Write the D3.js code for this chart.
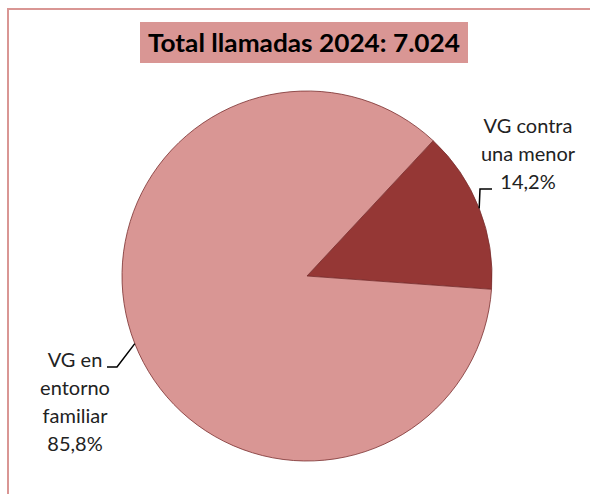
<!DOCTYPE html>
<html>
<head>
<meta charset="utf-8">
<script src="https://cdn.jsdelivr.net/npm/d3@7"></script>
<style>
  html, body { margin: 0; padding: 0; background: #fff; }
  svg { display: block; }
</style>
</head>
<body>
<script>
// ---- data ----
const categories = ["VG contra una menor", "VG en entorno familiar"];
const labelLines = [["VG contra", "una menor"], ["VG en", "entorno", "familiar"]];
const values = [14.2, 85.8];
const percentLabels = ["14,2%", "85,8%"];
const titleText = "Total llamadas 2024: 7.024";
const colors = ["#953735", "#D99694"];

const W = 590, H = 494;
const svg = d3.select("body").append("svg").attr("width", W).attr("height", H);
const FONT = "Lato, 'Open Sans', sans-serif";

// chart border (extends past right & bottom edge)
svg.append("rect").attr("x", 8).attr("y", 9).attr("width", 620).attr("height", 520)
  .attr("fill", "none").attr("stroke", "#D99694").attr("stroke-width", 2);

// title
const tb = { x: 140, y: 22, w: 328, h: 41 };
svg.append("rect").attr("x", tb.x).attr("y", tb.y).attr("width", tb.w).attr("height", tb.h)
  .attr("fill", "#D99694");
svg.append("text").attr("x", tb.x + tb.w / 2).attr("y", 52)
  .attr("text-anchor", "middle").attr("font-family", FONT).attr("font-weight", "bold")
  .attr("font-size", 24).attr("fill", "#000")
  .attr("textLength", 312).attr("lengthAdjust", "spacingAndGlyphs")
  .text(titleText);

// pie
const cx = 307, cy = 276, R = 185;
const startDeg = 43;
const pie = d3.pie().sort(null).value(d => d)
  .startAngle(startDeg * Math.PI / 180)
  .endAngle((startDeg + 360) * Math.PI / 180);
const arcs = pie(values);
const arc = d3.arc().innerRadius(0).outerRadius(R);
const g = svg.append("g").attr("transform", `translate(${cx},${cy})`);
g.selectAll("path").data(arcs).join("path")
  .attr("d", arc)
  .attr("fill", (d, i) => colors[i])
  .attr("stroke", "#7a2f2e").attr("stroke-width", 0.8).attr("stroke-linejoin", "round");

// labels with leader lines
const layout = [
  { elbow: [173, -87], end: [185, -87], tx: 221, baseline0: -143, anchor: "middle" },
  { elbow: [-190, 91], end: [-200, 91], tx: -232, baseline0: 91, anchor: "middle" }
];
arcs.forEach((a, i) => {
  const mid = (a.startAngle + a.endAngle) / 2;
  const p0 = [Math.sin(mid) * R, -Math.cos(mid) * R];
  const L = layout[i];
  g.append("polyline")
    .attr("points", [p0, L.elbow, L.end].map(p => p.join(",")).join(" "))
    .attr("fill", "none").attr("stroke", "#000").attr("stroke-width", 1.5);
  const lines = labelLines[i].concat([percentLabels[i]]);
  const t = g.append("text").attr("font-family", FONT).attr("font-size", 20)
    .attr("fill", "#222").attr("text-anchor", L.anchor);
  lines.forEach((ln, k) => {
    t.append("tspan").attr("x", L.tx).attr("y", L.baseline0 + k * 28).text(ln);
  });
});
</script>
</body>
</html>
